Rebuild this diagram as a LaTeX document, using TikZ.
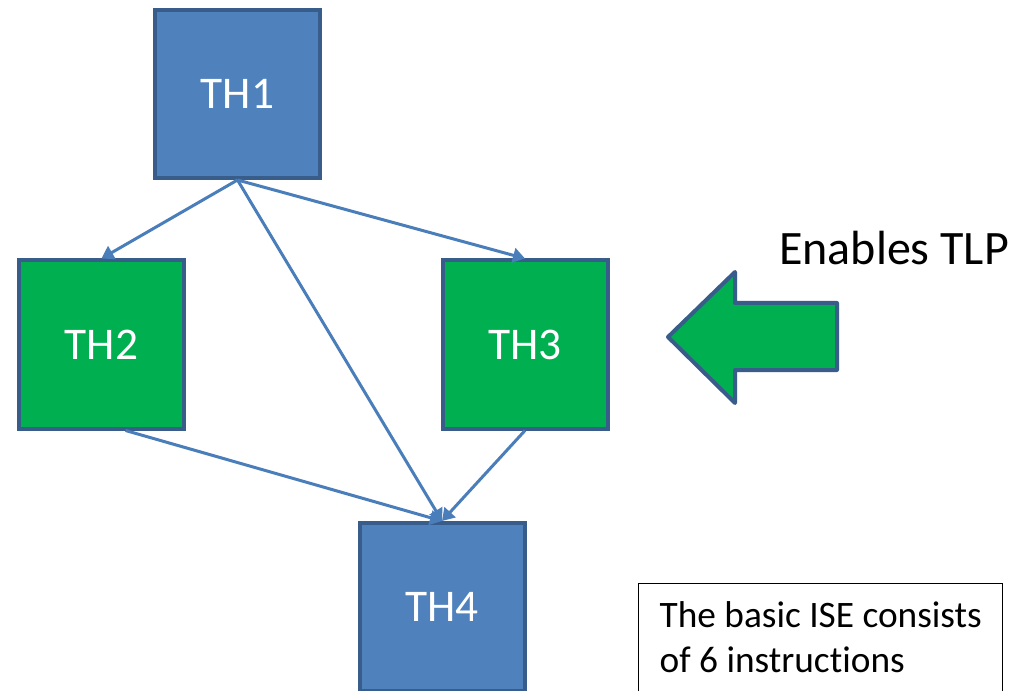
\documentclass[tikz,border=0pt]{standalone}
\usepackage{fontspec}
\setmainfont[Ligatures=NoCommon]{Carlito}
\usetikzlibrary{arrows.meta,calc}
\definecolor{bfill}{HTML}{4F81BD}
\definecolor{bedge}{HTML}{385D8A}
\definecolor{gfill}{HTML}{00B050}
\definecolor{lblue}{HTML}{4A7EBB}
\begin{document}
\begin{tikzpicture}[x=0.75pt,y=-0.75pt,
  thbox/.style={draw=bedge, line width=3pt, minimum width=123.75pt, minimum height=126pt,
    inner sep=0pt, text=white, font=\fontsize{34}{40}\selectfont},
  conn/.style={draw=lblue, line width=2.25pt, -{Triangle[length=9pt,width=11pt]}},
  blockarrow/.style={draw=bedge, fill=gfill, line width=3pt, line join=round},
  notebox/.style={draw=black, line width=1.1pt, anchor=north west, inner xsep=15pt,
    inner ysep=9pt, align=left, minimum width=273pt,
    font=\fontsize{28}{33.75}\selectfont}]
\useasboundingbox (0,0) rectangle (1027,691);
\clip (0,0) rectangle (1027,691);
\fill[white] (0,0) rectangle (1027,691);

\node[thbox, fill=bfill] (th1) at (237.5,94) {TH1};
\node[thbox, fill=gfill] (th2) at (101.5,344.5) {TH2};
\node[thbox, fill=gfill] (th3) at (525,344.5) {TH3};
\node[thbox, fill=bfill] (th4) at (442,607) {TH4};

\draw[conn] (th1.south) -- (th2.north);
\draw[conn] (th1.south) -- (th3.north);
\draw[conn] (th1.south) -- (th4.north);
\draw[conn] ($(th2.south west)!0.642!(th2.south east)$) -- (th4.north);
\draw[conn] (th3.south) -- (th4.north);

\draw[blockarrow] (668,337) -- (735,272) -- (735,303) -- (837,303) -- (837,370)
  -- (735,370) -- (735,403) -- cycle;

\node[anchor=base west, inner sep=0pt, font=\fontsize{36}{43}\selectfont] (tlp) at (779,265) {Enables TLP};

\node[notebox] (ise) at (638,583) {\strut The basic ISE consists\\ of 6 instructions\strut};
\end{tikzpicture}
\end{document}
